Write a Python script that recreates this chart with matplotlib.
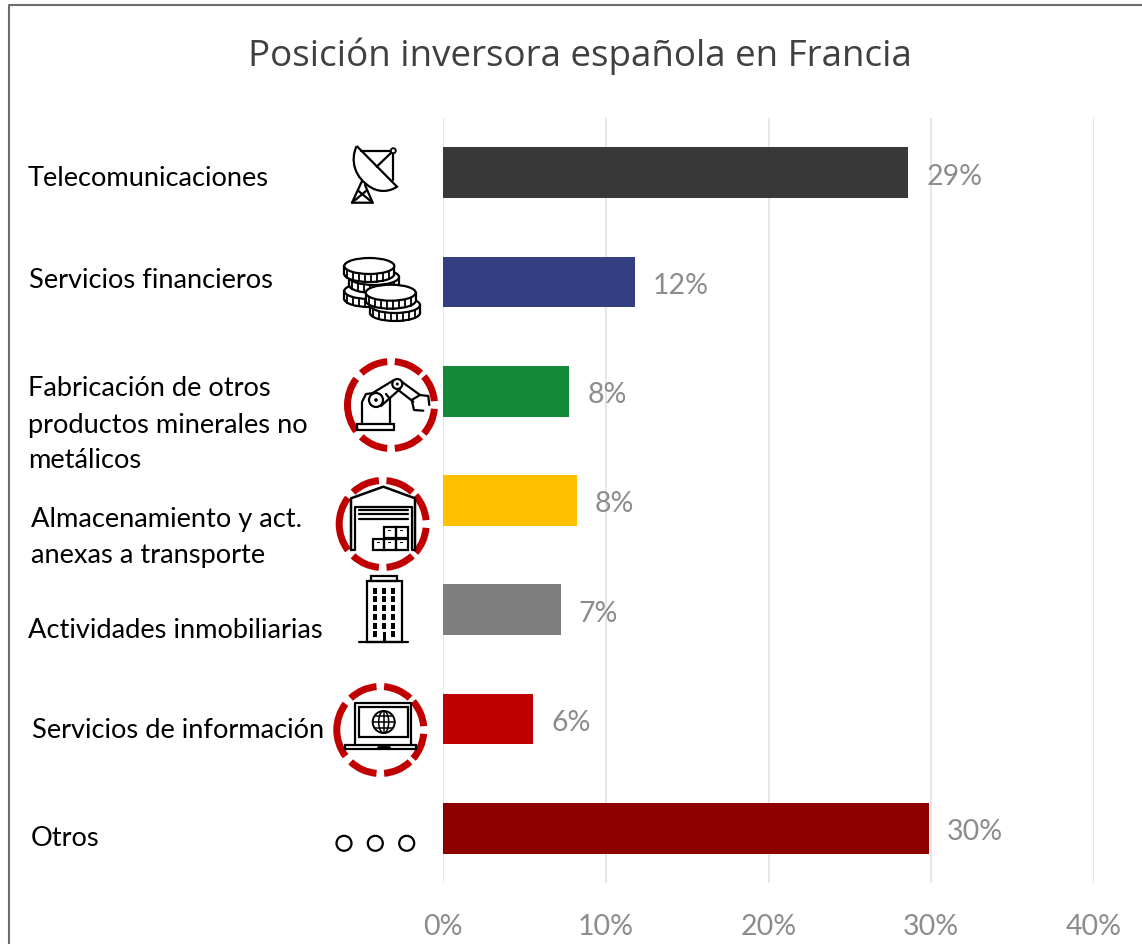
import matplotlib
matplotlib.use("Agg")
import matplotlib.pyplot as plt
from matplotlib.patches import Rectangle, Circle, Wedge, Ellipse, PathPatch
from matplotlib.path import Path

# ----data----
labels = ["Telecomunicaciones", "Servicios financieros",
          "Fabricación de otros\nproductos minerales no\nmetálicos",
          "Almacenamiento y act.\nanexas a transporte",
          "Actividades inmobiliarias", "Servicios de información", "Otros"]
values = [28.58, 11.8, 7.75, 8.22, 7.23, 5.53, 29.87]
value_labels = ["29%", "12%", "8%", "8%", "7%", "6%", "30%"]
colors = ["#383838", "#333F80", "#128A38", "#FFC000", "#7F7F7F", "#C00000", "#8E0000"]
ticks = [0, 10, 20, 30, 40]
title = "Posición inversora española en Francia"

W, H = 1142, 944
plt.rcParams['font.family'] = ['Lato', 'DejaVu Sans']
fig = plt.figure(figsize=(W / 100, H / 100), dpi=100)

# overlay in pixel coordinates for frame, labels and icons
bg = fig.add_axes([0, 0, 1, 1])
bg.set_xlim(0, W)
bg.set_ylim(H, 0)
bg.axis("off")
bg.plot([9, 9, 1142], [944, 5, 5], color="#6E6E6E", lw=1.5)
bg.text(580, 56, title, fontsize=26.5, color="#404040", ha="center", va="center",
        family=['Open Sans', 'DejaVu Sans'])

# bars
ax = fig.add_axes([443 / W, 1 - 883 / H, (1094 - 443) / W, (883 - 118) / H])
ax.patch.set_alpha(0)
y = list(range(len(values)))
ax.barh(y, values, height=0.465, color=colors, zorder=3)
ax.set_xlim(0, 40)
ax.set_ylim(6.5, -0.5)
ax.set_xticks(ticks)
ax.set_xticklabels([str(t) + "%" for t in ticks], fontsize=20.5, color="#8C8C8C")
ax.set_yticks([])
ax.tick_params(axis="x", length=0, pad=22)
ax.grid(axis="x", color="#E2E2E2", lw=1.2, zorder=0)
for s in ax.spines.values():
    s.set_visible(False)
for i, v in enumerate(values):
    ax.annotate(value_labels[i], (v, i), xytext=(18, -4), textcoords="offset pixels",
                fontsize=20.5, color="#8C8C8C", va="center", zorder=4)

# category labels, placed by hand like the text boxes of the original
label_pos = [(28, 179), (29, 280), (28, 425), (31, 537), (28, 630), (32, 730), (31, 839)]
for lab, (lx, ly) in zip(labels, label_pos):
    bg.text(lx, ly, lab, fontsize=19.6, color="black", va="center", linespacing=1.55)


def ring(cx, cy):
    # dashed red ring, long dash on the left
    for a, b in [(5, 41), (47, 85), (95, 133), (143, 217), (227, 265), (275, 313), (319, 355)]:
        bg.add_patch(Wedge((cx, cy), 47, a, b, width=7, fc="#C00000", ec="none"))


def rect(x0, y0, x1, y1, **kw):
    kw.setdefault("fill", False)
    kw.setdefault("ec", "black")
    kw.setdefault("lw", 1.6)
    bg.add_patch(Rectangle((x0, y0), x1 - x0, y1 - y0, **kw))


def line(xs, ys, lw=1.6):
    bg.plot(xs, ys, color="black", lw=lw, solid_capstyle="round", solid_joinstyle="round")


for cx, cy in [(391, 405), (382.7, 524), (380.3, 730)]:
    ring(cx, cy)

# dish
bowl = Path([(356.7, 146), (350, 160), (354, 178), (372, 188), (381, 193), (391, 191), (397, 186.7), (356.7, 146)],
            [Path.MOVETO, Path.CURVE4, Path.CURVE4, Path.CURVE4, Path.CURVE4, Path.CURVE4, Path.CURVE4, Path.LINETO])
bg.add_patch(PathPatch(bowl, fill=False, ec="black", lw=1.6))
line([360.7, 393.3, 393.3], [150.7, 150.7, 180])
line([393.3, 376.7], [150.7, 166.7])
bg.add_patch(Circle((393.3, 150.7), 2.5, fc="white", ec="black", lw=1.3, zorder=3))
line([361.7, 352, 372.7, 365], [181.7, 202.7, 202.7, 185])
line([358.5, 372.7], [191, 202.7])
line([366, 352], [191, 202.7])


# coins, back to front
def coin(cx, cy, z):
    w, h, t = 50, 16, 8
    bg.add_patch(Ellipse((cx, cy + t), w, h, fc="white", ec="black", lw=1.6, zorder=z))
    bg.add_patch(Rectangle((cx - w / 2, cy), w, t, fc="white", ec="none", zorder=z))
    for dx in range(-22, 23, 6):
        frac = (1 - (dx / 25) ** 2) ** 0.5
        bg.plot([cx + dx, cx + dx], [cy + frac * h / 2, cy + t + frac * h / 2], color="black", lw=1.3, zorder=z)
    bg.plot([cx - w / 2, cx - w / 2], [cy, cy + t], color="black", lw=1.6, zorder=z)
    bg.plot([cx + w / 2, cx + w / 2], [cy, cy + t], color="black", lw=1.6, zorder=z)
    bg.add_patch(Ellipse((cx, cy), w, h, fc="white", ec="black", lw=1.6, zorder=z + 0.1))


for n, (cx, cy) in enumerate([(369.3, 291), (374, 277), (369.3, 266), (395, 305), (390.7, 292.7)]):
    coin(cx, cy, 3 + n)

# robot arm
rect(357.3, 424, 394, 430)
line([362, 362, 366, 374], [424, 402, 394, 393])
line([390, 390, 386], [424, 399, 394])
line([371, 394], [394, 380])
line([381, 400], [406, 389])
bg.add_patch(Circle((376, 400), 7, fc="white", ec="black", lw=1.6, zorder=3))
bg.add_patch(Circle((376, 400), 1.8, fc="black", ec="none", zorder=4))
bg.add_patch(Circle((397.3, 384), 5, fc="white", ec="black", lw=1.6, zorder=3))
bg.add_patch(Circle((397.3, 384), 1.5, fc="black", ec="none", zorder=4))
line([401.7, 420], [381.7, 395])
line([397.3, 413.3], [389.3, 401.7])
line([429.3, 428.3, 420, 411.7, 414, 423.3], [405, 396, 395, 400, 410, 410.7])

# warehouse
line([351, 351, 383.3, 415, 415], [550, 498.3, 486.7, 498.3, 550], lw=1.8)
line([351, 355, 355, 411.7, 411.7, 415], [550, 550, 506.7, 506.7, 550, 550])
for yy in [510, 514.3, 519]:
    line([359.3, 408], [yy, yy])
for bx, by in [(372.7, 539), (384, 539), (396, 539), (384, 527.3), (396, 527.3)]:
    rect(bx, by, bx + 11.5, by + 11)
    rect(bx + 4, by + 2.5, bx + 7, by + 4, fill=True, fc="black", lw=0)

# building
rect(366.7, 581, 401.7, 641.7)
rect(370.7, 575.7, 397.3, 581)
line([359.3, 408.3], [641.7, 641.7])
for row in range(6):
    for col in range(3):
        if row == 5 and col == 1:
            continue
        rect(373.3 + col * 8.9, 587.7 + row * 8.7, 377.3 + col * 8.9, 593.7 + row * 8.7,
             fill=True, fc="black", lw=0)
rect(382.5, 632, 385.5, 641.7, fill=True, fc="black", lw=0)

# laptop
line([355, 355, 410.7, 410.7], [745, 702.7, 702.7, 745])
rect(359.3, 707.3, 408.3, 736.7)
rect(345, 745, 416, 749)
line([378, 389], [746.5, 746.5], lw=2)
bg.add_patch(Circle((383.7, 722), 11, fill=False, ec="black", lw=1.4))
bg.add_patch(Ellipse((383.7, 722), 10, 22, fill=False, ec="black", lw=1.1))
line([383.7, 383.7], [711, 733], lw=1.1)
line([372.7, 394.7], [722, 722], lw=1.1)
line([374.5, 393], [716, 716], lw=1.1)
line([374.5, 393], [728, 728], lw=1.1)

# dots
for cx in [344, 375.3, 406.7]:
    bg.add_patch(Circle((cx, 843.3), 7.5, fill=False, ec="black", lw=1.6))

fig.savefig("out.png", dpi=100)
